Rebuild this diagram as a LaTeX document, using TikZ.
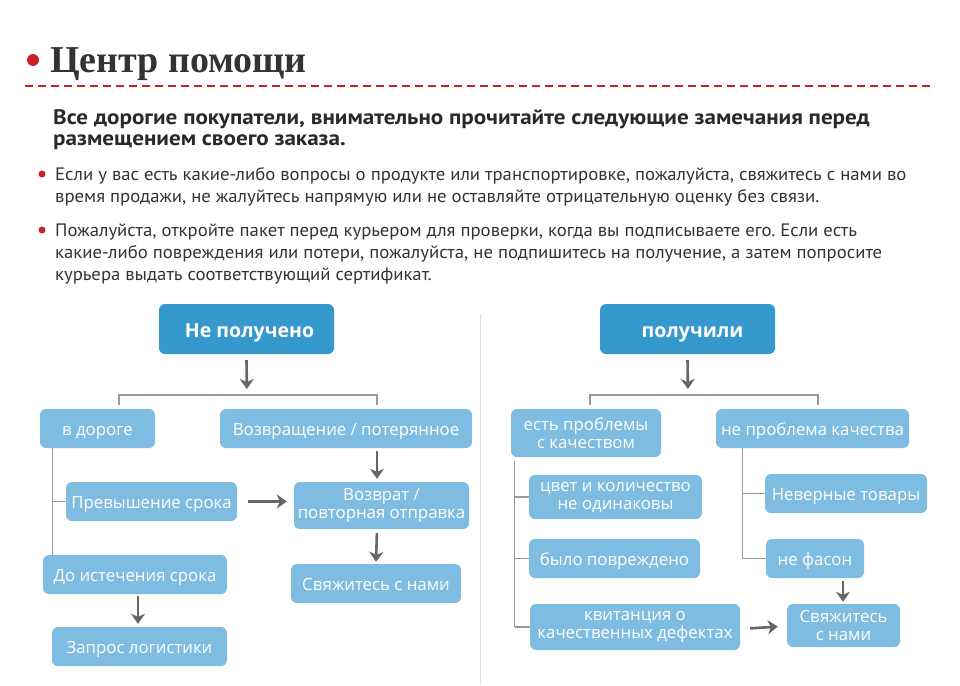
\documentclass[tikz,border=0pt]{standalone}
\usepackage{fontspec}
\setmainfont{Open Sans}
\newfontfamily\titlefont{Liberation Serif}
\newfontfamily\txtfont[FakeStretch=1.04]{PT Sans}
\newfontfamily\headfont[FakeStretch=1.1]{PT Sans}
\usetikzlibrary{arrows.meta}
\definecolor{dblue}{HTML}{3699CE}
\definecolor{lblue}{HTML}{7EBDE1}
\definecolor{redc}{HTML}{CC1F28}
\definecolor{gtxt}{HTML}{333333}
\definecolor{garr}{HTML}{666666}
\definecolor{gline}{HTML}{9A9A9A}
\frenchspacing
\begin{document}
\begin{tikzpicture}[x=1pt,y=-1pt,
 box/.style={rounded corners=6pt, inner sep=0pt, align=center, text=white},
 sz/.style 2 args={minimum width=#1pt, minimum height=#2pt},
 dbox/.style={box, fill=dblue, font=\fontsize{19.5}{21}\selectfont\bfseries, text height=17pt, text depth=1pt},
 lbox/.style={box, fill=lblue, font=\fontsize{16.8}{18}\selectfont},
 one/.style={text height=15pt, text depth=1pt},
 arr/.style={draw=garr, line width=2.6pt, -{Stealth[length=10pt,width=14pt,inset=3pt]}},
 tree/.style={draw=gline, line width=1.3pt},
 txtline/.style={anchor=base west, inner sep=0pt, text=gtxt, font=\txtfont\fontsize{18}{20}\selectfont},
 headline/.style={anchor=base west, inner sep=0pt, text=gtxt!80!black, font=\headfont\bfseries\fontsize{21}{23}\selectfont},
 reddot/.style={circle, fill=redc, inner sep=0pt},
]
\useasboundingbox (0,0) rectangle (960,685);
% title
\node[reddot, minimum size=12pt] (tdot) at (33,60) {};
\node[anchor=base west, inner sep=0pt, text=gtxt, font=\titlefont\bfseries\fontsize{38}{40}\selectfont] (title) at (50,73) {Центр помощи};
\draw[redc, line width=2.5pt, dash pattern=on 8pt off 5pt] (25,86) -- (933,86);
% heading
\node[headline] (h1) at (53,124) {Все дорогие покупатели, внимательно прочитайте следующие замечания перед};
\node[headline] (h2) at (53,145) {размещением своего заказа.};
% bullets
\node[reddot, minimum size=7pt] (d1) at (42,174) {};
\node[txtline] (b1) at (55,180) {Если у вас есть какие-либо вопросы о продукте или транспортировке, пожалуйста, свяжитесь с нами во};
\node[txtline] (b2) at (55,202) {время продажи, не жалуйтесь напрямую или не оставляйте отрицательную оценку без связи.};
\node[reddot, minimum size=7pt] (d2) at (42,230) {};
\node[txtline] (b3) at (55,236) {Пожалуйста, откройте пакет перед курьером для проверки, когда вы подписываете его. Если есть};
\node[txtline] (b4) at (55,258) {какие-либо повреждения или потери, пожалуйста, не подпишитесь на получение, а затем попросите};
\node[txtline] (b5) at (55,280) {курьера выдать соответствующий сертификат.};
% divider
\draw[draw=black!13, line width=1pt] (480,314) -- (480,685);
% left tree
\node[dbox, sz={175}{50}] (np) at (246.5,329) {\hspace*{6pt}Не получено};
\node[lbox, one, sz={115}{39}] (road) at (97.5,428.5) {в дороге};
\node[lbox, one, sz={252}{39}] (ret) at (346,428.5) {Возвращение / потерянное};
\node[lbox, one, sz={171}{39}] (over) at (151.5,501.5) {Превышение срока};
\node[lbox, sz={175}{47}] (back) at (381.5,505.5) {Возврат /\\повторная отправка};
\node[lbox, one, sz={170}{39}] (cont1) at (376,583.5) {Свяжитесь с нами};
\node[lbox, one, sz={184}{39}] (before) at (135,574.5) {До истечения срока};
\node[lbox, one, sz={175}{39}] (req) at (139.5,646.5) {Запрос логистики};
\coordinate (lbl) at (119,395);
\coordinate (lbr) at (377,395);
\coordinate (lbm) at (247,395);
\draw[tree] (119,405) -- (lbl) -- (lbr) -- (377,405);
\draw[arr, shorten >=6pt] ([yshift=-6pt]np.south) -- (lbm);
\draw[tree] ([xshift=13pt]road.south west) -- ([xshift=10pt]before.north west);
\draw[tree] (over.west) -- ++(-13,0);
\draw[arr, shorten <=11pt, shorten >=7pt] (over.east) -- (over.east -| back.west);
\draw[arr, shorten <=3pt, shorten >=3pt] ([xshift=31pt]ret.south) -- ([xshift=-4.5pt]back.north);
\draw[arr, shorten <=4pt, shorten >=2pt] ([xshift=-4.5pt]back.south) -- (cont1.north);
\draw[arr, shorten <=2pt, shorten >=3pt] ([xshift=3pt]before.south) -- ([xshift=-1.5pt]req.north);
% right tree
\node[dbox, sz={175}{50}] (rec) at (687.5,329) {\hspace*{10pt}получили};
\node[lbox, sz={150}{48}] (qual) at (586,433) {есть проблемы\\с качеством};
\node[lbox, one, sz={193}{39}] (nq) at (812.5,428.5) {не проблема качества};
\node[lbox, sz={173}{44}] (col) at (615.5,497) {цвет и количество\\не одинаковы};
\node[lbox, one, sz={171}{39}] (dmg) at (614.5,558.5) {было повреждено};
\node[lbox, sz={210}{46}] (rcpt) at (635,627) {квитанция о\\качественных дефектах};
\node[lbox, one, sz={162}{39}] (wrong) at (846,493.5) {Неверные товары};
\node[lbox, one, sz={98}{39}] (sty) at (815,558.5) {не фасон};
\node[lbox, sz={113}{43}] (cont2) at (843.5,625.5) {Свяжитесь\\с нами};
\coordinate (rbl) at (590,395);
\coordinate (rbr) at (818,395);
\coordinate (rbm) at (688,395);
\draw[tree] (590,405) -- (rbl) -- (rbr) -- (818,405);
\draw[arr, shorten >=6pt] ([yshift=-6pt]rec.south) -- (rbm);
\draw[tree] (col.west) -- ++(-14,0);
\draw[tree] (dmg.west) -- ++(-14,0);
\draw[tree] (rcpt.west) -- ++(-15,0) coordinate (qend);
\draw[tree] ([xshift=4pt,yshift=-4pt]qual.south west) -- (qend);
\draw[tree] (wrong.west) -- ++(-22,0);
\draw[tree] (sty.west) -- ++(-23,0) coordinate (nqend);
\draw[tree] ([xshift=27pt]nq.south west) -- (nqend);
\draw[arr, shorten <=3pt, shorten >=2pt] ([xshift=28pt]sty.south) -- ([xshift=-0.5pt]cont2.north);
\draw[arr, shorten <=10pt, shorten >=9pt] ([yshift=-2pt]rcpt.east) -- ([yshift=-0.5pt]cont2.west);
\end{tikzpicture}
\end{document}
